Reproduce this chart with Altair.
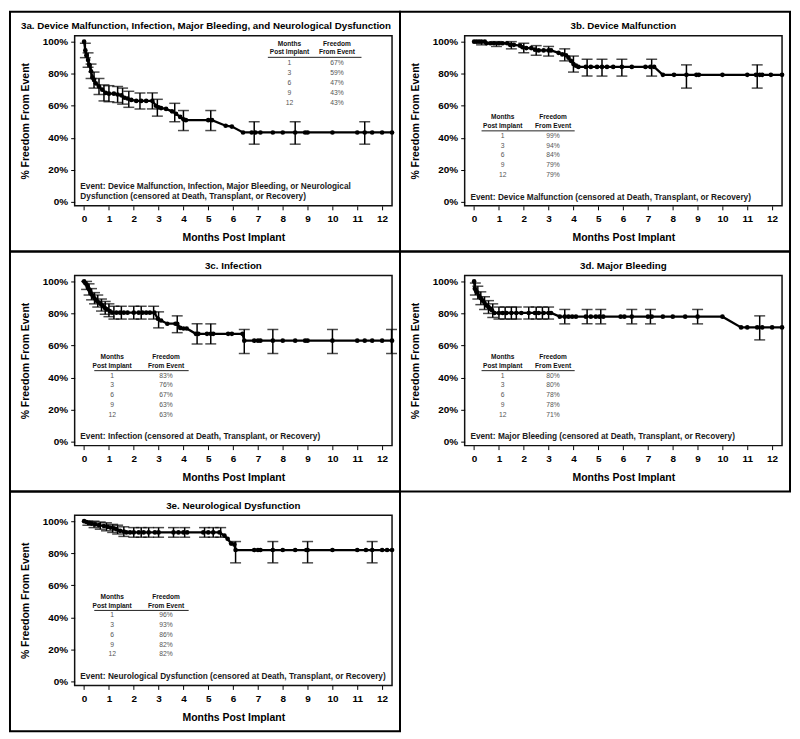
import altair as alt
import pandas as pd

FONT = "Liberation Sans"

# ---------------- data ----------------
months_rows = [1, 3, 6, 9, 12]
x_ticks = [0, 1, 2, 3, 4, 5, 6, 7, 8, 9, 10, 11, 12]
y_ticks = [0, 20, 40, 60, 80, 100]

# 3a composite
a_time = [0, 0.05, 0.1, 0.16, 0.21, 0.28, 0.34, 0.4, 0.47, 0.6, 0.73, 0.87, 1.0, 1.2, 1.35,
          1.5, 1.63, 1.75, 1.9, 2.1, 2.3, 2.5, 2.75, 2.89, 3.0, 3.1, 3.3, 3.54, 3.7, 3.87,
          4.0, 4.1, 5.0, 5.15, 5.7, 5.95, 6.4, 6.75, 6.9, 7.1, 7.6, 8.0, 8.5, 8.9, 9.0,
          10.0, 11.0, 11.3, 11.6, 12.0, 12.4]
a_surv = [100, 94.5, 91.5, 88.5, 85.5, 81.5, 77.5, 76, 74, 72, 70, 68, 67.5, 67.5, 67,
          66.5, 65, 64.5, 63.6, 63, 63, 63, 63, 60, 59, 58.5, 58, 56.5, 55, 53,
          51.5, 51, 51, 51, 47.5, 47, 43.3, 43.3, 43.3, 43.3, 43.3, 43.3, 43.3, 43.3, 43.3,
          43.3, 43.3, 43.3, 43.3, 43.3, 43.3]
a_bar_time = [0.05, 0.16, 0.28, 0.4, 0.6, 0.8, 1.0, 1.35, 1.55, 1.8, 2.25, 2.75, 2.95, 3.65, 4.0, 5.1, 6.85, 8.5, 11.3]
a_bar_low = [90, 84, 77, 71, 67, 63, 62.5, 62, 61, 59, 58, 58, 53.5, 50, 44.5, 44.5, 36, 36, 36]
a_bar_high = [99, 93, 86, 81, 77, 73, 72.5, 72, 71, 69, 68, 68, 64, 61.5, 57, 57, 50, 50, 50]
a_table = [67, 59, 47, 43, 43]

# 3b device malfunction
b_time = [0, 0.1, 0.2, 0.3, 0.43, 0.5, 0.65, 0.8, 1.0, 1.15, 1.33, 1.45, 1.6, 1.85, 1.95,
          2.1, 2.3, 2.45, 2.6, 2.8, 3.0, 3.1, 3.4, 3.55, 3.7, 3.8, 3.9, 4.0, 4.1, 4.2,
          4.5, 4.7, 4.95, 5.15, 5.35, 5.6, 5.95, 6.35, 6.9, 7.1, 7.25, 7.6, 8.05, 8.55, 8.95,
          9.05, 10.0, 11.0, 11.35, 11.5, 11.6, 11.95, 12.4]
b_surv = [100, 100, 100, 100, 100, 99, 99, 99, 99, 99, 99, 98, 98, 97.5, 96.5,
          96, 96, 95, 94.5, 94.5, 94.5, 94.5, 93, 92, 91.5, 90, 88, 86, 85, 84.2,
          84.2, 84.2, 84.2, 84.2, 84.2, 84.2, 84.2, 84.2, 84.2, 84.2, 84.2, 79.3, 79.3, 79.3, 79.3,
          79.3, 79.3, 79.3, 79.3, 79.3, 79.3, 79.3, 79.3]
b_bar_time = [0.3, 0.9, 1.5, 2.0, 2.5, 3.0, 3.65, 4.0, 4.55, 5.15, 5.95, 7.15, 8.55, 11.4]
b_bar_low = [98, 97, 95.5, 93, 91.5, 91, 88, 81, 78.5, 78.5, 78.5, 78.5, 71, 71]
b_bar_high = [100, 100, 100, 99, 97.5, 97, 95.5, 91, 89, 89, 89, 89, 85.5, 85.5]
b_table = [99, 94, 84, 79, 79]

# 3c infection
c_time = [0, 0.05, 0.1, 0.15, 0.2, 0.25, 0.3, 0.35, 0.42, 0.5, 0.58, 0.66, 0.74, 0.83, 0.93,
          1.03, 1.13, 1.3, 1.45, 1.6, 1.75, 2.0, 2.2, 2.35, 2.5, 2.65, 2.83, 2.97, 3.1, 3.35,
          3.68, 3.75, 3.87, 4.0, 4.13, 4.5, 4.6, 4.95, 5.1, 5.2, 5.8, 5.95, 6.38, 6.45, 6.85,
          7.0, 7.1, 7.6, 8.0, 8.5, 8.9, 9.0, 10.0, 11.0, 11.3, 11.6, 12.0, 12.4]
c_surv = [100, 99, 98, 96.5, 95, 93.5, 92, 91, 89.5, 88, 87, 86, 85, 83.5, 82.5,
          81.5, 80.5, 80.5, 80.5, 80.5, 80.5, 80.5, 80.5, 80.5, 80.5, 80.5, 80.5, 76.7, 75.6, 73.6,
          73.6, 73.6, 71, 70.6, 70.6, 67.3, 67.3, 67.3, 67.3, 67.3, 67.3, 67.3, 67.3, 63, 63,
          63, 63, 63, 63, 63, 63, 63, 63, 63, 63, 63, 63, 63]
c_bar_time = [0.1, 0.2, 0.3, 0.42, 0.55, 0.7, 0.85, 1.0, 1.2, 1.5, 2.0, 2.3, 2.8, 3.0, 3.75, 4.55, 5.1, 6.45, 7.6, 10.0, 12.38]
c_bar_low = [95, 91.5, 88.5, 86, 84, 81.5, 79.5, 78, 76.5, 76.5, 76.5, 76.5, 76.5, 71, 68, 61, 61, 55, 55, 55, 55]
c_bar_high = [100, 98.5, 95.5, 93, 91.5, 89, 87.5, 86, 84.5, 84.5, 84.5, 84.5, 84.5, 81, 78.5, 73.5, 73.5, 70, 70, 70, 70]
c_table = [83, 76, 67, 63, 63]

# 3d major bleeding
d_time = [0, 0.03, 0.08, 0.13, 0.2, 0.27, 0.35, 0.42, 0.5, 0.58, 0.65, 0.72, 0.82, 1.0, 1.15,
          1.3, 1.5, 1.7, 1.9, 2.2, 2.45, 2.6, 2.8, 3.0, 3.1, 3.45, 3.65, 3.8, 3.95, 4.1,
          4.5, 4.7, 4.9, 5.05, 5.2, 5.9, 6.05, 6.35, 7.0, 7.15, 7.6, 8.0, 8.5, 9.0, 10.0,
          10.75, 11.0, 11.4, 11.6, 12.0, 12.4]
d_surv = [100, 95.5, 94, 93, 91, 89.5, 88, 86.5, 85, 84, 83, 82, 80.3, 80.3, 80.3,
          80.3, 80.3, 80.3, 80.3, 80.3, 80.3, 80.3, 80.3, 80.3, 80.3, 78, 78, 78, 78, 78,
          78, 78, 78, 78, 78, 78, 78, 78, 78, 78, 78, 78, 78, 78, 78,
          71.3, 71.3, 71.3, 71.3, 71.3, 71.3]
d_bar_time = [0.05, 0.15, 0.27, 0.42, 0.58, 0.75, 1.0, 1.25, 1.5, 1.7, 2.2, 2.5, 2.75, 3.0, 3.65, 4.55, 5.1, 6.35, 7.1, 9.0, 11.5]
d_bar_low = [91.5, 89, 85.5, 82.5, 80, 77.5, 76.5, 76.5, 76.5, 76.5, 76.5, 76.5, 76.5, 76.5, 73.5, 73.5, 73.5, 73.5, 73.5, 73.5, 63.5]
d_bar_high = [99, 97, 93.5, 90.5, 88, 86, 84, 84, 84, 84, 84, 84, 84, 84, 82.5, 82.5, 82.5, 82.5, 82.5, 82.5, 78.5]
d_table = [80, 80, 78, 78, 71]

# 3e neurological dysfunction
e_time = [0, 0.1, 0.2, 0.3, 0.45, 0.6, 0.8, 0.95, 1.06, 1.2, 1.3, 1.45, 1.6, 1.7, 1.85,
          2.0, 2.2, 2.4, 2.6, 2.85, 3.0, 3.6, 3.8, 4.0, 4.15, 4.8, 5.0, 5.2, 5.45, 5.65,
          5.78, 5.92, 6.05, 6.1, 6.85, 7.0, 7.1, 7.6, 8.0, 8.5, 8.95, 9.0, 10.0, 11.0, 11.35,
          11.6, 12.0, 12.2, 12.4]
e_surv = [100, 99.5, 99, 98.5, 98, 97.5, 97, 96.5, 96, 95.5, 95, 94, 93.5, 93, 93,
          93, 93, 93, 93, 93, 93, 93, 93, 93, 93, 93, 93, 93, 93, 91,
          89, 86, 85.5, 82, 82, 82, 82, 82, 82, 82, 82, 82, 82, 82, 82,
          82, 82, 82, 82]
e_bar_time = [0.15, 0.4, 0.65, 0.9, 1.15, 1.35, 1.6, 2.0, 2.3, 2.6, 3.0, 3.6, 4.05, 4.85, 5.2, 5.5, 6.1, 7.6, 9.0, 11.6]
e_bar_low = [97.5, 96, 95, 94, 93, 92, 90.5, 90, 90, 90, 90, 90, 90, 90, 90, 90, 74, 74, 74, 74]
e_bar_high = [100, 100, 99.5, 99, 98, 97.5, 96.5, 96, 96, 96, 96, 96, 96, 96, 96, 96, 87.3, 87.3, 87.3, 87.3]
e_table = [96, 93, 86, 82, 82]

titles = [
    "3a. Device Malfunction, Infection, Major Bleeding, and Neurological Dysfunction",
    "3b. Device Malfunction",
    "3c. Infection",
    "3d. Major Bleeding",
    "3e. Neurological Dysfunction",
]
event_texts = [
    ["Event: Device Malfunction, Infection, Major Bleeding, or Neurological",
     "Dysfunction (censored at Death, Transplant, or Recovery)"],
    ["Event: Device Malfunction (censored at Death, Transplant, or Recovery)"],
    ["Event: Infection (censored at Death, Transplant, or Recovery)"],
    ["Event: Major Bleeding (censored at Death, Transplant, or Recovery)"],
    ["Event: Neurological Dysfunction (censored at Death, Transplant, or Recovery)"],
]

# ---------------- layout ----------------
PW, PH = 319, 171
BOX_L, BOX_T, BOX_W, BOX_H = 65, 24, 392, 241
XDOM = [-0.38, 12.4]
YDOM = [-2.5, 103.7]


def panel(title, title_x, times, surv, bt, blo, bhi, table_vals, tab, events, event_ys):
    xs = alt.Scale(domain=XDOM, nice=False, zero=False)
    ys = alt.Scale(domain=YDOM, nice=False, zero=False)
    curve = pd.DataFrame({"t": times, "s": surv})
    bars = pd.DataFrame({"t": bt, "lo": blo, "hi": bhi})
    one = pd.DataFrame({"k": [0]})

    xax = alt.Axis(values=x_ticks, tickCount=13, title="Months Post Implant",
                   labelFlush=False, labelOverlap=False)
    yax = alt.Axis(values=y_ticks, tickCount=6, labelExpr="datum.value + '%'",
                   labelOverlap=False, title="% Freedom From Event")
    X = alt.X("t:Q", scale=xs, axis=xax)
    Y = alt.Y("s:Q", scale=ys, axis=yax)

    box = alt.Chart(one).mark_rect(fillOpacity=0, stroke="black", strokeWidth=2).encode(
        x=alt.value(-BOX_L), x2=alt.value(BOX_W - BOX_L),
        y=alt.value(-BOX_T), y2=alt.value(BOX_H - BOX_T))
    ttl = alt.Chart(one).mark_text(font=FONT, fontSize=9.8, fontWeight="bold", color="black",
                                   align="center", baseline="middle").encode(
        x=alt.value(title_x), y=alt.value(-9.5), text=alt.value(title))

    line = alt.Chart(curve).mark_line(color="black", strokeWidth=2.3).encode(x=X, y=Y)
    pts = alt.Chart(curve).mark_circle(color="black", size=22, opacity=1).encode(x=X, y=Y)
    rule = alt.Chart(bars).mark_rule(color="black", strokeWidth=1.5).encode(
        x=X, y=alt.Y("lo:Q", scale=ys, axis=yax), y2="hi:Q")
    cap_lo = alt.Chart(bars).mark_tick(color="black", orient="horizontal", size=11, thickness=1.5).encode(
        x=X, y=alt.Y("lo:Q", scale=ys, axis=yax))
    cap_hi = alt.Chart(bars).mark_tick(color="black", orient="horizontal", size=11, thickness=1.5).encode(
        x=X, y=alt.Y("hi:Q", scale=ys, axis=yax))

    c1, c2, hy1, hy2, uy, ux1, ux2, ry0, rstep = tab
    head = pd.DataFrame({
        "t": [c1, c1, c2, c2],
        "s": [hy1, hy2, hy1, hy2],
        "txt": ["Months", "Post Implant", "Freedom", "From Event"],
    })
    rows = pd.DataFrame({
        "t": [c1] * 5 + [c2] * 5,
        "s": [ry0 - rstep * i for i in range(5)] * 2,
        "txt": [str(m) for m in months_rows] + [f"{v}%" for v in table_vals],
    })
    under = pd.DataFrame({"t": [ux1], "t2": [ux2], "s": [uy]})
    ev = pd.DataFrame({"t": [-0.15] * len(events), "s": event_ys, "txt": events})

    head_l = alt.Chart(head).mark_text(font=FONT, fontSize=6.6, fontWeight="bold", color="#111",
                                       align="center", baseline="middle").encode(
        x=X, y=Y, text="txt:N")
    rows_l = alt.Chart(rows).mark_text(font=FONT, fontSize=6.8, color="#555",
                                       align="center", baseline="middle").encode(
        x=X, y=Y, text="txt:N")
    under_l = alt.Chart(under).mark_rule(color="#222", strokeWidth=1).encode(
        x=X, x2="t2:Q", y=Y)
    ev_l = alt.Chart(ev).mark_text(font=FONT, fontSize=8.3, fontWeight="bold", color="#1a1a1a",
                                   align="left", baseline="middle").encode(
        x=X, y=Y, text="txt:N")

    return alt.layer(box, line, rule, cap_lo, cap_hi, pts, under_l, head_l, rows_l, ev_l, ttl).properties(
        width=PW, height=PH)


TAB_A = (8.27, 10.18, 98.8, 93.3, 90.2, 7.4, 11.17, 86.4, 6.15)
TAB_B = (1.15, 3.18, 52.8, 47.3, 44.3, 0.3, 4.05, 41.2, 6.1)
TAB_C = (1.13, 3.3, 52.8, 47.3, 44.3, 0.41, 4.21, 41.2, 6.1)
CENTER = PW / 2

pa = panel(titles[0], 132, a_time, a_surv, a_bar_time, a_bar_low, a_bar_high, a_table, TAB_A,
           event_texts[0], [9.1, 3.0])
pb = panel(titles[1], CENTER, b_time, b_surv, b_bar_time, b_bar_low, b_bar_high, b_table, TAB_B,
           event_texts[1], [2.6])
pc = panel(titles[2], CENTER, c_time, c_surv, c_bar_time, c_bar_low, c_bar_high, c_table, TAB_C,
           event_texts[2], [2.6])
pd_ = panel(titles[3], CENTER, d_time, d_surv, d_bar_time, d_bar_low, d_bar_high, d_table, TAB_B,
            event_texts[3], [2.6])
pe = panel(titles[4], CENTER, e_time, e_surv, e_bar_time, e_bar_low, e_bar_high, e_table, TAB_C,
           event_texts[4], [2.6])

chart = alt.concat(pa, pb, pc, pd_, pe, columns=2, spacing={"row": BOX_H - PH, "column": BOX_W - PW},
                   bounds="flush").properties(padding=0, background="white").configure_view(
    stroke="#111", strokeWidth=1.5
).configure_axis(
    grid=False, domain=False, ticks=True, tickColor="black", tickSize=4, tickWidth=1,
    labelOverlap=False, labelFlush=False,
    labelFont=FONT, labelFontSize=10, labelFontWeight="bold", labelColor="black",
    titleFont=FONT, titleFontSize=10.5, titleFontWeight="bold", titleColor="black",
).configure_axisX(labelPadding=4, titlePadding=9).configure_axisY(labelPadding=3, titlePadding=12)

chart.save("out.html", embed_options={"renderer": "svg", "actions": False})
